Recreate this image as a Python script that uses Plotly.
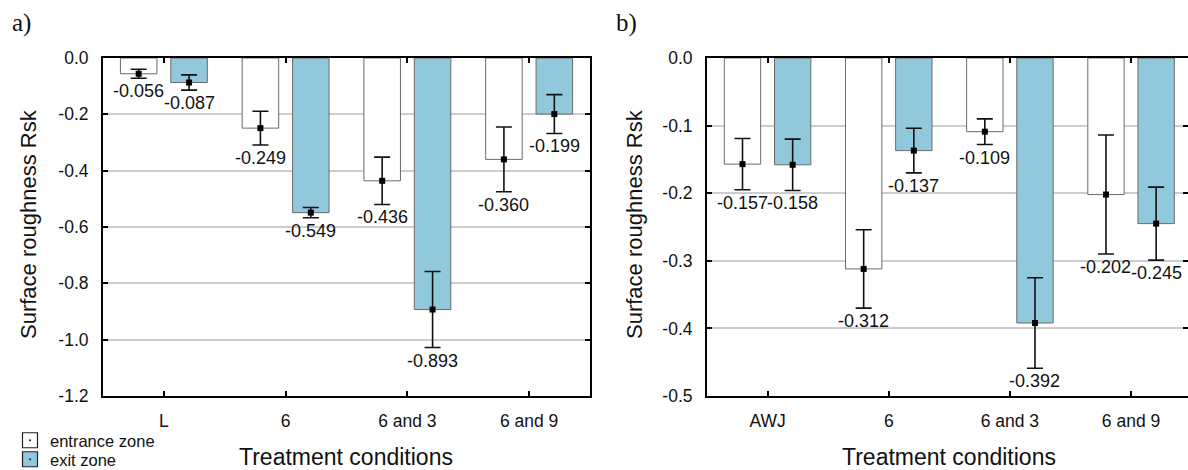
import plotly.graph_objects as go

# ---------------- data ----------------
cats_a = ["L", "6", "6 and 3", "6 and 9"]
cats_b = ["AWJ", "6", "6 and 3", "6 and 9"]

entr_a = [-0.056, -0.249, -0.436, -0.360]
exit_a = [-0.087, -0.549, -0.893, -0.199]
entr_err_a = [0.016, 0.060, 0.084, 0.115]
exit_err_a = [0.027, 0.018, 0.135, 0.069]

entr_b = [-0.157, -0.312, -0.109, -0.202]
exit_b = [-0.158, -0.137, -0.392, -0.245]
entr_err_b = [0.038, 0.058, 0.019, 0.088]
exit_err_b = [0.038, 0.033, 0.067, 0.054]

yticks_a = [0.0, -0.2, -0.4, -0.6, -0.8, -1.0, -1.2]
yticks_b = [0.0, -0.1, -0.2, -0.3, -0.4, -0.5]

series_names = ["entrance zone", "exit zone"]
y_title = "Surface roughness Rsk"
x_title = "Treatment conditions"
panel_letters = ["a)", "b)"]

# ---------------- style ----------------
W, H = 1188, 470
BLUE = "#92c8dc"
WHITE = "#ffffff"
EDGE = "#6a6a6a"
FONT = "Liberation Sans, Arial, sans-serif"
OFF = 0.207
BW = 0.30

fig = go.Figure()

panels = [
    dict(cats=cats_a, ent=entr_a, ex=exit_a, ee=entr_err_a, xe=exit_err_a, xa="x", ya="y"),
    dict(cats=cats_b, ent=entr_b, ex=exit_b, ee=entr_err_b, xe=exit_err_b, xa="x2", ya="y2"),
]

for p in panels:
    idx = list(range(len(p["cats"])))
    for k, (vals, errs, col) in enumerate([(p["ent"], p["ee"], WHITE), (p["ex"], p["xe"], BLUE)]):
        xs = [i + (2 * k - 1) * OFF for i in idx]
        fig.add_trace(go.Bar(
            x=xs, y=vals, width=BW, marker=dict(color=col, line=dict(color=EDGE, width=1)),
            xaxis=p["xa"], yaxis=p["ya"], showlegend=False, hoverinfo="skip"))
        fig.add_trace(go.Scatter(
            x=xs, y=vals, mode="markers",
            marker=dict(symbol="square", size=6, color="black"),
            error_y=dict(type="data", array=errs, visible=True, color="#111111", thickness=1.6, width=8),
            xaxis=p["xa"], yaxis=p["ya"], showlegend=False, hoverinfo="skip"))
        for x, v, e in zip(xs, vals, errs):
            fig.add_annotation(
                x=x, y=v - e, xref=p["xa"], yref=p["ya"], text=f"{v:.3f}",
                showarrow=False, xanchor="center", yanchor="top", yshift=-1,
                font=dict(family=FONT, size=18, color="#111111"))

# legend entries (each in its own legend box so that the spacing matches)
for name, col, lg in zip(series_names, [WHITE, BLUE], ["legend", "legend2"]):
    fig.add_trace(go.Scatter(
        x=[None], y=[None], mode="markers", name=name, legend=lg,
        marker=dict(symbol="square-dot", size=15, color=col, line=dict(color="#222222", width=1.2)),
        xaxis="x", yaxis="y"))

yd = [74 / H, 412 / H]
common_x = dict(
    tickmode="array", ticks="inside", ticklen=5, tickwidth=1.5, tickcolor="black",
    showline=True, linecolor="black", linewidth=2, mirror="ticks", showgrid=False,
    zeroline=False, tickfont=dict(family=FONT, size=17.5, color="#111111"),
    ticklabelstandoff=8, automargin=False,
)
common_y = dict(
    tickmode="array", ticks="inside", ticklen=5, tickwidth=1.5, tickcolor="black",
    showline=True, linecolor="black", linewidth=2, mirror="ticks",
    showgrid=True, gridcolor="#cdcdcd", gridwidth=1.5, zeroline=False,
    tickfont=dict(family=FONT, size=17.5, color="#111111"),
    ticklabelstandoff=9, automargin=False,
)
leg_common = dict(xanchor="left", yanchor="top",
                  font=dict(family=FONT, size=16.5, color="#111111"),
                  bgcolor="rgba(0,0,0,0)", itemwidth=30, borderwidth=0)

fig.update_layout(
    width=W, height=H, margin=dict(l=0, r=0, t=0, b=0, autoexpand=False),
    paper_bgcolor="white", plot_bgcolor="white",
    barmode="overlay",
    xaxis=dict(domain=[103 / W, 590 / W], range=[-0.5, 3.5],
               tickvals=list(range(len(cats_a))), ticktext=cats_a, anchor="y", **common_x),
    yaxis=dict(domain=yd, range=[-1.2, 0], tickvals=yticks_a,
               ticktext=[f"{abs(t):.1f}" if t == 0 else f"{t:.1f}" for t in yticks_a],
               anchor="x", **common_y),
    xaxis2=dict(domain=[707 / W, 1.0], range=[-0.5, 3.47],
                tickvals=list(range(len(cats_b))), ticktext=cats_b, anchor="y2", **common_x),
    yaxis2=dict(domain=yd, range=[-0.5, 0], tickvals=yticks_b,
                ticktext=[f"{abs(t):.1f}" if t == 0 else f"{t:.1f}" for t in yticks_b],
                anchor="x2", **common_y),
    legend=dict(x=10 / W, y=1 - 423 / H, **leg_common),
    legend2=dict(x=10 / W, y=1 - 442 / H, **leg_common),
    showlegend=True,
)

# axis titles and panel letters
for cx, tx in [(346, x_title), (949, x_title)]:
    fig.add_annotation(x=cx / W, y=1 - 457 / H, xref="paper", yref="paper", text=tx,
                       xanchor="center", yanchor="middle", showarrow=False,
                       font=dict(family=FONT, size=23, color="#111111"))
for cx in [28, 634]:
    fig.add_annotation(x=cx / W, y=1 - 224 / H, xref="paper", yref="paper", text=y_title,
                       textangle=-90, xanchor="center", yanchor="middle", showarrow=False,
                       font=dict(family=FONT, size=22, color="#111111"))
for cx, letter in zip([21, 626], panel_letters):
    fig.add_annotation(x=cx / W, y=1 - 23 / H, xref="paper", yref="paper", text=letter,
                       xanchor="center", yanchor="middle", showarrow=False,
                       font=dict(family="Liberation Serif, Times New Roman, serif", size=25, color="#111111"))

fig.write_html(
    "out.html",
    config={"displayModeBar": False},
    post_script="document.body.style.margin='0';document.body.style.padding='0';"
                "document.body.style.overflow='hidden';",
)
